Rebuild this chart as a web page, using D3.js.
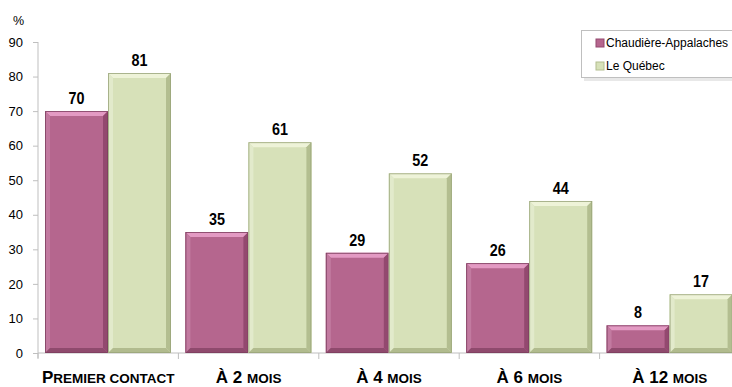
<!DOCTYPE html>
<html><head><meta charset="utf-8">
<script src="https://cdn.jsdelivr.net/npm/d3@7/dist/d3.min.js"></script>
<style>body{margin:0;background:#fff;}svg{display:block;font-family:"Liberation Sans",Arial,sans-serif;}</style>
</head><body><svg id="c" width="732" height="387"></svg>
<script>
const categories = [["P","REMIER CONTACT"],["À 2 ","MOIS"],["À 4 ","MOIS"],["À 6 ","MOIS"],["À 12 ","MOIS"]];
const seriesNames = ["Chaudière-Appalaches","Le Québec"];
const chaudiere = [70,35,29,26,8];
const quebec = [81,61,52,44,17];
const yTicks = [0,10,20,30,40,50,60,70,80,90];

const svg = d3.select("#c");
const x = d3.scaleBand().domain(d3.range(categories.length)).range([38,740]).padding(0);
const xs = d3.scaleBand().domain([0,1]).range([7,133]).padding(0);
const y = d3.scaleLinear().domain([0,90]).range([353,42]);

const fills = [
  {base:"#b5668e", top:"#e39ac3", left:"#c27aa0", right:"#93496f", bottom:"#8f4a6d", stroke:"#7d3f5f"},
  {base:"#d7e1b9", top:"#eef3d8", left:"#e2eacb", right:"#b3be90", bottom:"#b1bb8e", stroke:"#9aa57a"}
];

// axes
const yAxis = svg.append("g").attr("transform","translate(38,0)")
  .call(d3.axisLeft(y).tickValues(yTicks).tickSize(5).tickPadding(10));
yAxis.attr("font-family",null).attr("font-size",null);
yAxis.select(".domain").attr("stroke","#bfbfbf").attr("d","M0,"+y(90)+"V"+(y(0)+5));
yAxis.selectAll(".tick line").attr("stroke","#bfbfbf");
yAxis.selectAll(".tick text").attr("font-size",13).attr("fill","#000");

svg.append("text").attr("x",13).attr("y",25).attr("font-size",12.5).text("%");

svg.append("line").attr("x1",38).attr("x2",740).attr("y1",y(0)).attr("y2",y(0)).attr("stroke","#bfbfbf");
svg.selectAll(".xt").data(d3.range(categories.length+1)).join("line")
  .attr("x1",i=>i<categories.length?x(i):x(i-1)+x.bandwidth()).attr("x2",i=>i<categories.length?x(i):x(i-1)+x.bandwidth())
  .attr("y1",y(0)).attr("y2",y(0)+6).attr("stroke","#bfbfbf");

// bars
const data = [];
categories.forEach((c,i)=>{
  [chaudiere[i],quebec[i]].forEach((v,s)=>data.push({i,s,v}));
});
const b = 5;
const g = svg.selectAll(".bar").data(data).join("g");
g.each(function(d){
  const sel = d3.select(this);
  const x0 = x(d.i)+xs(d.s), w = xs.bandwidth(), y0 = y(d.v), y1 = y(0), h = y1-y0;
  const f = fills[d.s];
  const bb = Math.min(b, h/2);
  sel.append("rect").attr("x",x0).attr("y",y0).attr("width",w).attr("height",h).attr("fill",f.base);
  const P = (pts)=>pts.map(p=>p.join(",")).join(" ");
  sel.append("polygon").attr("points",P([[x0,y0],[x0+w,y0],[x0+w-bb,y0+bb],[x0+bb,y0+bb]])).attr("fill",f.top);
  sel.append("polygon").attr("points",P([[x0,y0],[x0+bb,y0+bb],[x0+bb,y1-bb],[x0,y1]])).attr("fill",f.left);
  sel.append("polygon").attr("points",P([[x0+w,y0],[x0+w,y1],[x0+w-bb,y1-bb],[x0+w-bb,y0+bb]])).attr("fill",f.right);
  sel.append("polygon").attr("points",P([[x0,y1],[x0+bb,y1-bb],[x0+w-bb,y1-bb],[x0+w,y1]])).attr("fill",f.bottom);
  sel.append("rect").attr("x",x0+0.5).attr("y",y0+0.5).attr("width",w-1).attr("height",h-1).attr("fill","none").attr("stroke",f.stroke).attr("stroke-width",0.8);
  sel.append("text").attr("transform",`translate(${x0+w/2},${y0-7}) scale(0.87,1)`).attr("text-anchor","middle")
    .attr("font-size",16.5).attr("font-weight","bold").text(d.v);
});

// category labels
svg.selectAll(".cl").data(categories).join("text")
  .attr("transform",(d,i)=>`translate(${x(i)+x.bandwidth()/2},383)`).attr("text-anchor","middle")
  .attr("font-weight","bold")
  .each(function(d){
    const t = d3.select(this);
    t.append("tspan").attr("font-size",17).text(d[0]);
    t.append("tspan").attr("font-size",13.5).text(d[1]);
  });

// legend
const lg = svg.append("g");
lg.append("rect").attr("x",584).attr("y",33).attr("width",160).attr("height",48).attr("fill","#d9d9d9").attr("opacity",0.6);
lg.append("rect").attr("x",581.5).attr("y",30.5).attr("width",160).attr("height",47).attr("fill","#fff").attr("stroke","#bfbfbf");
seriesNames.forEach((n,i)=>{
  const yy = 43 + i*23;
  lg.append("rect").attr("x",596).attr("y",yy-4).attr("width",8).attr("height",8)
    .attr("fill",fills[i].base).attr("stroke",fills[i].right).attr("stroke-width",1);
  lg.append("text").attr("x",606).attr("y",yy+4).attr("font-size",12).text(n);
});
</script></body></html>
